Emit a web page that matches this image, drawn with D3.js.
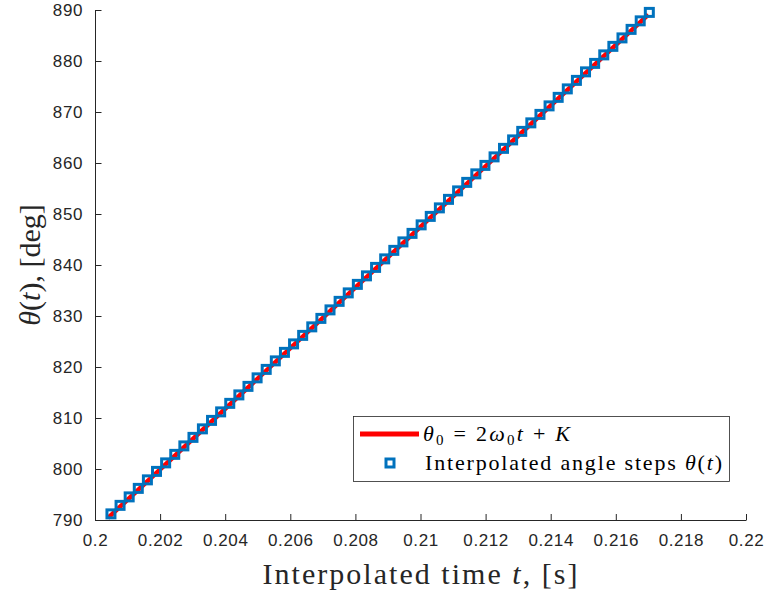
<!DOCTYPE html>
<html>
<head>
<meta charset="utf-8">
<script src="https://cdn.jsdelivr.net/npm/d3@7"></script>
<style>
  html, body { margin: 0; padding: 0; background: #fff; }
  svg { display: block; }
</style>
</head>
<body>
<div id="chart"></div>
<script>
// ---- data ----
const stepTimes = [0.20049,0.20077,0.20105,0.20133,0.20161,0.20189,0.20217,0.20245,0.20273,0.20301,
  0.20330,0.20358,0.20386,0.20414,0.20442,0.20470,0.20498,0.20526,0.20554,0.20582,
  0.20610,0.20638,0.20666,0.20694,0.20722,0.20750,0.20778,0.20806,0.20834,0.20862,
  0.20890,0.20918,0.20946,0.20974,0.21002,0.21030,0.21058,0.21086,0.21114,0.21142,
  0.21170,0.21198,0.21226,0.21255,0.21283,0.21311,0.21339,0.21367,0.21395,0.21423,
  0.21451,0.21479,0.21507,0.21535,0.21563,0.21591,0.21619,0.21647,0.21675,0.21703];
const stepAngles = [791.20,792.87,794.53,796.20,797.87,799.53,801.20,802.87,804.53,806.20,
  807.87,809.53,811.20,812.87,814.53,816.20,817.87,819.53,821.20,822.87,
  824.53,826.20,827.87,829.53,831.20,832.87,834.53,836.20,837.87,839.53,
  841.20,842.87,844.53,846.20,847.87,849.53,851.20,852.87,854.53,856.20,
  857.87,859.53,861.20,862.87,864.53,866.20,867.87,869.53,871.20,872.87,
  874.53,876.20,877.87,879.53,881.20,882.87,884.53,886.20,887.87,889.53];
const fitTimes = [0.20040, 0.21700];
const fitAngles = [790.40, 889.10];
const xTicks = [0.2,0.202,0.204,0.206,0.208,0.21,0.212,0.214,0.216,0.218,0.22];
const xTickLabels = ["0.2","0.202","0.204","0.206","0.208","0.21","0.212","0.214","0.216","0.218","0.22"];
const yTicks = [790,800,810,820,830,840,850,860,870,880,890];
const yTickLabels = ["790","800","810","820","830","840","850","860","870","880","890"];

// ---- layout ----
const W = 766, H = 596;
const L = 95, R = 746, T = 10, B = 520;
const axisColor = "#262626";
const blue = "#0072BD", red = "#FF0000";

const svg = d3.select("#chart").append("svg").attr("width", W).attr("height", H);

const x = d3.scaleLinear().domain([0.2, 0.22]).range([L, R]);
const y = d3.scaleLinear().domain([790, 890]).range([B, T]);

// fit line
const pts = fitTimes.map((t, i) => [t, fitAngles[i]]);
svg.append("path")
  .datum(pts)
  .attr("fill", "none")
  .attr("stroke", red)
  .attr("stroke-width", 4.5)
  .attr("d", d3.line().x(d => x(d[0])).y(d => y(d[1])));

// markers
const ms = 8;
svg.append("g").selectAll("rect")
  .data(stepTimes.map((t, i) => [t, stepAngles[i]]))
  .join("rect")
  .attr("x", d => x(d[0]) - ms / 2)
  .attr("y", d => y(d[1]) - ms / 2)
  .attr("width", ms).attr("height", ms)
  .attr("fill", "none")
  .attr("stroke", blue)
  .attr("stroke-width", 3);

// axes
const xAxis = d3.axisBottom(x).tickValues(xTicks).tickFormat((d, i) => xTickLabels[i])
  .tickSizeInner(-6).tickSizeOuter(0).tickPadding(14);
const yAxis = d3.axisLeft(y).tickValues(yTicks).tickFormat((d, i) => yTickLabels[i])
  .tickSizeInner(-6.5).tickSizeOuter(0).tickPadding(12);

const gx = svg.append("g").attr("transform", `translate(0,${B})`).call(xAxis);
const gy = svg.append("g").attr("transform", `translate(${L},0)`).call(yAxis);
[gx, gy].forEach(g => {
  g.select(".domain").attr("stroke", axisColor).attr("stroke-width", 1);
  g.selectAll(".tick line").attr("stroke", axisColor).attr("stroke-width", 1);
  g.selectAll(".tick text")
    .attr("fill", axisColor)
    .style("font-family", "'Liberation Sans', Arial, sans-serif")
    .style("font-size", "17px")
    .style("letter-spacing", "0.6px");
});
gy.selectAll(".tick text").attr("x", -12).attr("dx", 0);

const serif = "'Liberation Serif', 'Times New Roman', Times, serif";

// x title
const xt = svg.append("text")
  .attr("x", 420).attr("y", 584)
  .attr("text-anchor", "middle")
  .attr("fill", axisColor)
  .style("font-family", serif).style("font-size", "30px")
  .attr("textLength", 315).attr("lengthAdjust", "spacing");
xt.append("tspan").text("Interpolated time ");
xt.append("tspan").style("font-style", "italic").text("t");
xt.append("tspan").text(", [s]");

// y title
const yt = svg.append("text")
  .attr("transform", "translate(40,265) rotate(-90)")
  .attr("text-anchor", "middle")
  .attr("fill", axisColor)
  .style("font-family", serif).style("font-size", "30px");
yt.append("tspan").style("font-style", "italic").text("θ");
yt.append("tspan").text("(");
yt.append("tspan").style("font-style", "italic").text("t");
yt.append("tspan").text("), [deg]");

// legend
const lg = svg.append("g");
lg.append("rect")
  .attr("x", 353.5).attr("y", 416.5).attr("width", 376).attr("height", 65)
  .attr("fill", "#fff").attr("stroke", axisColor).attr("stroke-width", 0.8);
lg.append("line")
  .attr("x1", 360).attr("x2", 419).attr("y1", 434).attr("y2", 434)
  .attr("stroke", red).attr("stroke-width", 5);
lg.append("rect")
  .attr("x", 390 - ms / 2).attr("y", 463 - ms / 2).attr("width", ms).attr("height", ms)
  .attr("fill", "none").attr("stroke", blue).attr("stroke-width", 3);

const t1 = lg.append("text")
  .attr("x", 423).attr("y", 441)
  .attr("fill", "#000")
  .style("font-family", serif).style("font-size", "22px")
  .attr("textLength", 147).attr("lengthAdjust", "spacing");
t1.append("tspan").style("font-style", "italic").text("θ");
t1.append("tspan").attr("dy", 4).style("font-size", "15px").text("0");
t1.append("tspan").attr("dy", -4).text(" = 2");
t1.append("tspan").style("font-style", "italic").text("ω");
t1.append("tspan").attr("dy", 4).style("font-size", "15px").text("0");
t1.append("tspan").attr("dy", -4).style("font-style", "italic").text("t");
t1.append("tspan").text(" + ");
t1.append("tspan").style("font-style", "italic").text("K");

const t2 = lg.append("text")
  .attr("x", 425).attr("y", 470)
  .attr("fill", "#000")
  .style("font-family", serif).style("font-size", "22px")
  .attr("textLength", 297).attr("lengthAdjust", "spacing");
t2.append("tspan").text("Interpolated angle steps ");
t2.append("tspan").style("font-style", "italic").text("θ");
t2.append("tspan").text("(");
t2.append("tspan").style("font-style", "italic").text("t");
t2.append("tspan").text(")");
</script>
</body>
</html>
